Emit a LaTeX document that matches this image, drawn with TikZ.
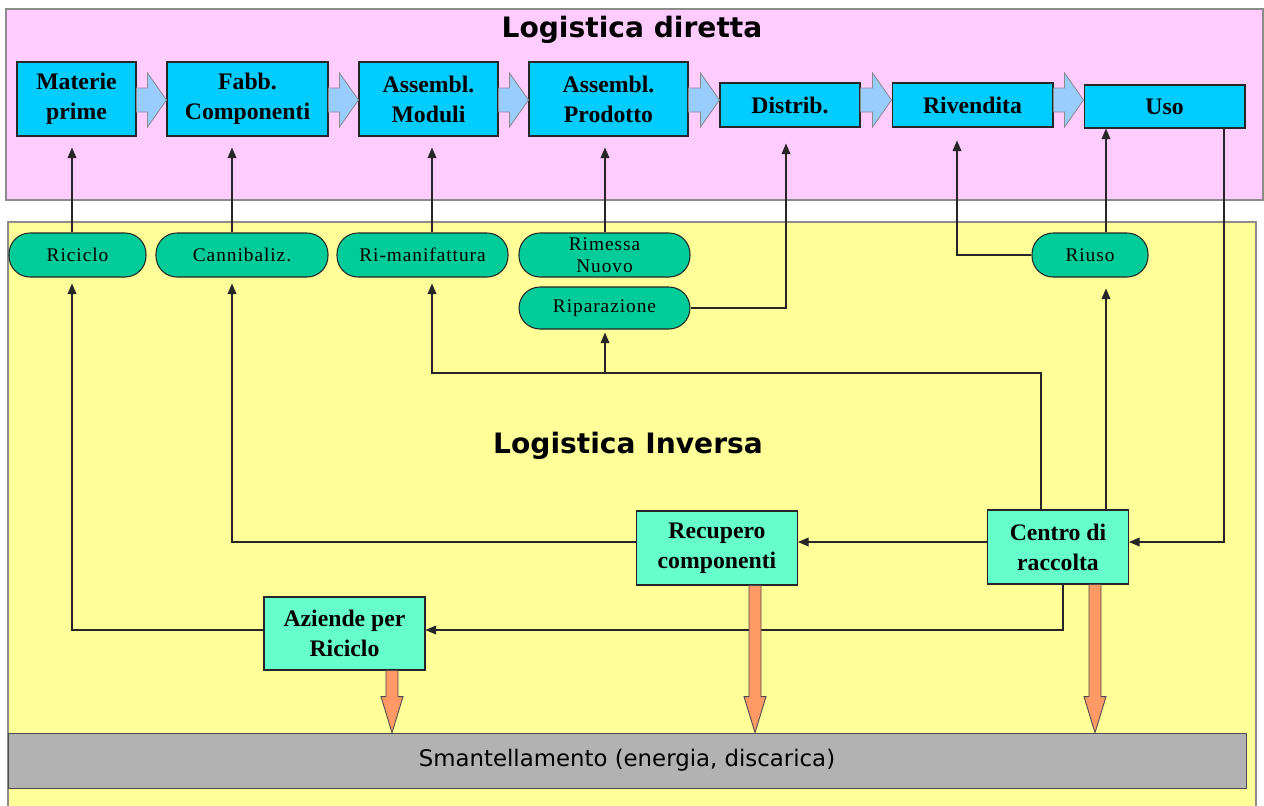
\documentclass[tikz,border=0pt]{standalone}
\usepackage{fontspec}
\setmainfont{Liberation Serif}
\newfontfamily\sansfont{DejaVu Sans}
\newfontfamily\ovalfont[LetterSpace=5]{Liberation Serif}
\usetikzlibrary{arrows.meta,calc}
\definecolor{pinkbg}{HTML}{FFCCFF}
\definecolor{yellowbg}{HTML}{FFFF99}
\definecolor{cyanbox}{HTML}{00CCFF}
\definecolor{greenov}{HTML}{00CC99}
\definecolor{aquabox}{HTML}{66FFCC}
\definecolor{bluearr}{HTML}{99CCFF}
\definecolor{orangearr}{HTML}{FF9966}
\definecolor{graybar}{HTML}{B2B2B2}

\begin{document}
\begin{tikzpicture}[x=0.02cm,y=-0.02cm]
\tikzset{
  stage/.style={draw=black!85,fill=cyanbox,line width=0.6pt,inner sep=0pt,align=center,
    font=\fontsize{13.5}{17}\selectfont\bfseries},
  recov/.style={rounded corners=0.42cm,draw=black!85,fill=greenov,line width=0.6pt,inner sep=0pt,
    align=center,minimum height=0.88cm,font=\ovalfont\fontsize{11}{12.5}\selectfont},
  hub/.style={draw=black!85,fill=aquabox,line width=0.6pt,inner sep=0pt,align=center,
    minimum height=1.48cm,font=\fontsize{13.5}{17}\selectfont\bfseries},
  link/.style={draw=black!85,line width=0.6pt,-{Triangle[width=5pt,length=6pt]}},
  flow/.style={fill=bluearr,draw=black!45,line width=0.5pt},
  dump/.style={fill=orangearr,draw=black!70,line width=0.5pt},
  area/.style={draw=black!45,line width=0.8pt},
  heading/.style={font=\sansfont\fontsize{16}{19}\selectfont\bfseries}
}
\useasboundingbox (0,0) rectangle (1264,805);

% sfondi
\filldraw[area,fill=pinkbg] (6,9) rectangle (1263,200);
\filldraw[area,fill=yellowbg] (8,222) rectangle (1256,815);
\node[heading] (tdir) at (632,30) {Logistica diretta};
\node[heading] (tinv) at (628,446) {Logistica Inversa};

\coordinate (ay) at (0,100);
\coordinate (lane1) at (0,542);
\coordinate (lane2) at (0,630);
\coordinate (lane3) at (0,373);

% catena diretta
\node[stage,minimum width=2.38cm,minimum height=1.48cm] (mat) at (76.5,99) {Materie\\prime};
\node[stage,minimum width=3.22cm,minimum height=1.48cm] (fab) at (247.5,99) {Fabb.\\Componenti};
\node[stage,minimum width=2.78cm,minimum height=1.48cm] (mod) at (428.5,99) {Assembl.\\Moduli};
\node[stage,minimum width=3.18cm,minimum height=1.48cm] (pro) at (608.5,99) {Assembl.\\Prodotto};
\node[stage,minimum width=2.80cm,minimum height=0.88cm] (dis) at (790,105) {Distrib.};
\node[stage,minimum width=3.22cm,minimum height=0.88cm] (riv) at (972.5,105) {Rivendita};
\node[stage,minimum width=3.22cm,minimum height=0.86cm] (uso) at (1164.5,106.5) {Uso};

\foreach \a/\b in {mat/fab,fab/mod,mod/pro,pro/dis,dis/riv,riv/uso}{
  \coordinate (s) at (\a.east |- ay);
  \coordinate (t) at (\b.west |- ay);
  \filldraw[flow] ($(s)+(0,-12)$) -- ($(t)+(-19,-12)$) -- ($(t)+(-19,-27)$) -- (t)
    -- ($(t)+(-19,27)$) -- ($(t)+(-19,12)$) -- ($(s)+(0,12)$) -- cycle;
}

% recuperi
\node[recov,minimum width=2.74cm] (ric) at (77.5,255) {Riciclo};
\node[recov,minimum width=3.44cm] (can) at (242,255) {Cannibaliz.};
\node[recov,minimum width=3.42cm] (rim) at (422.5,255) {Ri-manifattura};
\node[recov,minimum width=3.42cm] (rin) at (604.5,255) {Rimessa\\Nuovo};
\node[recov,minimum width=3.42cm,minimum height=0.84cm] (rip) at (604.5,308) {Riparazione};
\node[recov,minimum width=2.32cm] (riu) at (1090,255) {Riuso};

% logistica inversa
\node[hub,minimum width=3.22cm] (rec) at (717,548) {Recupero\\componenti};
\node[hub,minimum width=2.82cm] (cen) at (1058,547) {Centro di\\raccolta};
\node[hub,minimum width=3.22cm,minimum height=1.46cm] (azi) at (344.5,633.5) {Aziende per\\Riciclo};
\node[draw=black!70,fill=graybar,minimum width=24.76cm,minimum height=1.1cm,inner sep=0pt,
  font=\sansfont\fontsize{13}{15}\selectfont] (sma) at (627,760.5) {Smantellamento (energia, discarica)};

% collegamenti
\foreach \x/\a/\b in {72/ric/mat,232/can/fab,432/rim/mod,605/rin/pro}
  \draw[link,shorten >=0.22cm] (\x,0 |- \a.north) -- (\x,0 |- \b.south);
\draw[link,shorten >=0.32cm] (rip.east) -| (786,0 |- dis.south);
\draw[link,shorten >=0.26cm] (riu.west) -| (957,0 |- riv.south);
\draw[link] (1106,0 |- riu.north) -- (1106,0 |- uso.south);
\draw[link,shorten >=0.22cm] (1106,0 |- cen.north) -- (1106,0 |- riu.south);
\draw[link] (1224,0 |- uso.south) |- (cen.east |- lane1);
\draw[link] (cen.west |- lane1) -- (rec.east |- lane1);
\draw[link,shorten >=0.12cm] (rec.west |- lane1) -| (232,0 |- can.south);
\draw[link,shorten >=0.12cm] (1041,0 |- cen.north) |- (432,0 |- lane3) -- (432,0 |- rim.south);
\draw[link,shorten >=0.06cm] (605,0 |- lane3) -- (605,0 |- rip.south);
\draw[link] (1063,0 |- cen.south) |- (azi.east |- lane2);
\draw[link,shorten >=0.12cm] (azi.west |- lane2) -| (72,0 |- ric.south);

% verso smantellamento
\foreach \n/\x in {azi/392,rec/755,cen/1095}{
  \coordinate (s) at (\x,0 |- \n.south);
  \coordinate (t) at (\x,0 |- sma.north);
  \filldraw[dump] ($(s)+(-6,0)$) -- ($(t)+(-6,-36)$) -- ($(t)+(-11,-36)$) -- (t)
    -- ($(t)+(11,-36)$) -- ($(t)+(6,-36)$) -- ($(s)+(6,0)$) -- cycle;
}
\end{tikzpicture}
\end{document}
